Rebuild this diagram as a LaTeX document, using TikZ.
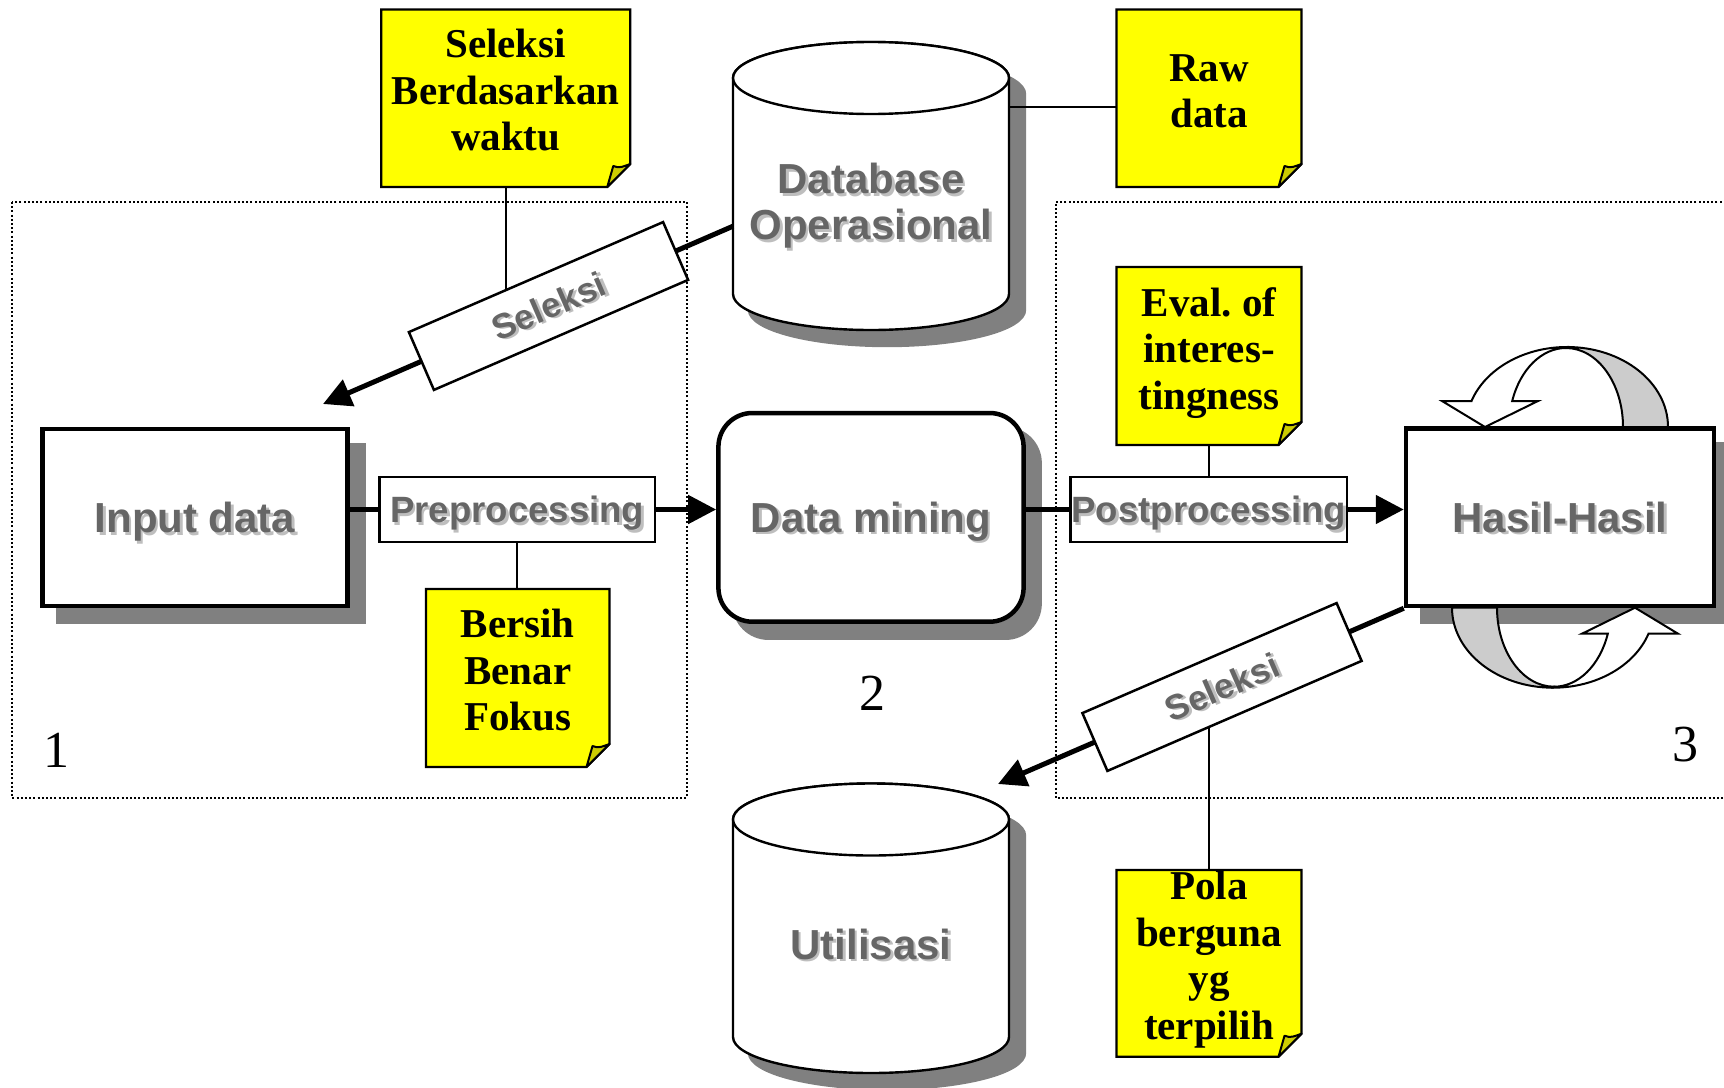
\documentclass[tikz,border=0pt]{standalone}
\usepackage{fontspec}
\setmainfont{Liberation Serif}
\newfontfamily\labelfont{Liberation Sans}
\usetikzlibrary{arrows.meta,calc,shadows}

\definecolor{notey}{RGB}{255,255,0}
\definecolor{notecurlc}{RGB}{204,204,0}
\definecolor{shadowgray}{RGB}{128,128,128}
\definecolor{bandgray}{RGB}{204,204,204}
\definecolor{labelink}{RGB}{102,102,102}
\definecolor{labelshade}{RGB}{190,190,190}

% grey label text with a soft drop shadow
\newcommand{\embossed}[1]{\makebox[0pt][l]{\hspace*{1.2pt}\raisebox{-1.2pt}{\color{labelshade}#1}}{\color{labelink}#1}}

\tikzset{
  panel/.style={line width=1pt, dash pattern=on 1pt off 1.1pt},
  notespot/.style={inner sep=0pt, outer sep=0pt},
  notepaper/.style={fill=notey, draw=black, line width=1.2pt, line join=miter},
  notecurl/.style={fill=notecurlc, draw=black, line width=1pt, line join=round},
  notetext/.style={inner sep=0pt, align=center, font=\fontsize{20.5}{23.25}\selectfont\bfseries},
  boxshadow/.style={drop shadow={shadow xshift=8pt, shadow yshift=-8pt, opacity=1, fill=shadowgray, draw=shadowgray}},
  bigbox/.style={draw, fill=white, line width=2.25pt, inner sep=0pt, text depth=0pt,
    font=\labelfont\fontsize{21}{23}\selectfont\bfseries, boxshadow},
  stepbox/.style={draw, fill=white, line width=1.25pt, inner sep=0pt, text depth=0pt,
    font=\labelfont\fontsize{18.3}{20}\selectfont\bfseries},
  seleksibox/.style={stepbox, rotate=23.4, minimum width=138.5pt, minimum height=31.5pt,
    font=\labelfont\fontsize{17.5}{20}\selectfont\bfseries},
  flow/.style={line width=2.5pt},
  flowarrow/.style={flow, -{Triangle[length=14pt,width=14pt]}},
  tie/.style={line width=1pt},
  drumlabel/.style={inner sep=0pt, align=center, font=\labelfont\fontsize{21}{23}\selectfont\bfseries},
  drumshade/.style={fill=shadowgray, draw=shadowgray, line width=1.2pt},
  drumwall/.style={fill=white, draw=black, line width=1.2pt},
  tally/.style={inner sep=0pt, font=\fontsize{26}{30}\selectfont},
  ribbon/.style={draw=black, line width=1pt, line join=miter},
}

% sticky note: name, centre x, centre y, width, height, top of text, text
\newcommand{\stickynote}[7]{%
  \node[notespot, minimum width=#4, minimum height=#5] (#1) at (#2,#3) {};
  \draw[notepaper] (#1.north west) -- (#1.north east)
     -- ($(#1.south east)+(0,-23)$) -- ($(#1.south east)+(-23,0)$) -- (#1.south west) -- cycle;
  \draw[notecurl] ($(#1.south east)+(-23,0)$) -- ($(#1.south east)+(-17,-21)$)
     .. controls ($(#1.south east)+(-11,-18)$) and ($(#1.south east)+(-6,-21)$) .. ($(#1.south east)+(0,-23)$) -- cycle;
  \node[notetext, anchor=north] (#1-txt) at (#2,#6) {#7};
}

% outline of an upright drum: centre x, top rim y, bottom rim y
\newcommand{\drumoutline}[3]{(#1-138,#2) -- (#1-138,#3) arc[start angle=180,end angle=0,x radius=138,y radius=36] -- (#1+138,#2) arc[start angle=0,end angle=-180,x radius=138,y radius=36] -- cycle}

% drum with shadow: name, centre x, top rim y, bottom rim y, total height
\newcommand{\drum}[5]{%
  \filldraw[drumshade, shift={(16,16)}] \drumoutline{#2}{#3}{#4};
  \filldraw[drumwall] \drumoutline{#2}{#3}{#4};
  \draw[drumwall] (#2,#3) ellipse[x radius=138, y radius=36];
  \node[notespot, minimum width=138pt, minimum height=#5] (#1) at (#2,{(#3+#4)/2}) {};
}

% twisted loop arrow, origin at the centre of its outer arc
\newcommand{\loopribbon}{%
  \filldraw[ribbon, fill=bandgray] (56,0) arc[start angle=0,end angle=-90,x radius=57,y radius=79]
     -- (0,-80) arc[start angle=-90,end angle=0,x radius=101,y radius=80] -- cycle;
  \filldraw[ribbon, fill=white] (-95.5,-26) -- (-125,-26) -- (-82,0) -- (-29,-26) -- (-54.8,-26)
     arc[start angle=199.2,end angle=270,x radius=57,y radius=79]
     -- (0,-80) arc[start angle=270,end angle=199,x radius=101,y radius=80] -- cycle;
}

\begin{document}
\begin{tikzpicture}[x=0.5pt,y=-0.5pt]
\path[use as bounding box] (0,0) rectangle (1724,1087);
\clip (0,0) rectangle (1724,1087);

% stage panels
\draw[panel] (12,202) rectangle (687,798);
\draw[panel] (1730,202) -- (1055.5,202) -- (1055.5,798) -- (1730,798);

% stage numbers
\node[tally, anchor=base] (n1) at (56,767) {1};
\node[tally, anchor=base] (n2) at (872,710) {2};
\node[tally, anchor=base] (n3) at (1685,761) {3};

% databases
\drum{dbop}{871}{78}{294}{144pt}
\drum{util}{871}{819.5}{1037}{144.75pt}
\node[drumlabel, anchor=north] (dbop-txt) at (871,163) {\embossed{Database}\\\embossed{Operasional}};
\node[drumlabel, anchor=base] (util-txt) at (871,959) {\embossed{Utilisasi}};

% notes
\stickynote{noteA}{505.75}{98.25}{124.5pt}{88.75pt}{29}{Seleksi\\Berdasarkan\\waktu}
\stickynote{noteB}{1209}{98.25}{92.5pt}{88.75pt}{54}{Raw\\data}
\stickynote{noteC}{1209}{356}{92.5pt}{89pt}{287}{Eval.\ of\\interes-\\tingness}
\stickynote{noteD}{517.75}{678}{91.75pt}{89pt}{609}{Bersih\\Benar\\Fokus}
\stickynote{noteE}{1209}{963.35}{92.5pt}{93.35pt}{871}{Pola\\berguna\\yg\\terpilih}

% main stages
\node[bigbox, minimum width=152.5pt, minimum height=88.5pt] (input) at (195,517.5) {\embossed{Input data}};
\node[bigbox, rounded corners=17pt, minimum width=152.6pt, minimum height=104.35pt] (dm) at (871,517.35) {\embossed{Data mining}};
\node[bigbox, minimum width=154pt, minimum height=88.65pt] (hasil) at (1560,517.35) {\embossed{Hasil-Hasil}};

% processing steps
\node[stepbox, minimum width=137.75pt, minimum height=32.5pt] (pre) at (517.2,509.5) {\embossed{Preprocessing}};
\node[stepbox, minimum width=138.25pt, minimum height=32.5pt] (post) at (1208.75,509.5) {\embossed{Postprocessing}};

% main flow
\draw[flow] (input.east |- pre.west) -- (pre.west);
\draw[flowarrow] (pre.east) -- (pre.east -| dm.west);
\draw[flow] (dm.east |- post.west) -- (post.west);
\draw[flowarrow] (post.east) -- (post.east -| hasil.west);

% note ties
\draw[tie] (pre.south) -- (pre.south |- noteD.north);
\draw[tie] (noteC.south) -- (noteC.south |- post.north);
\coordinate (rawtap) at ($(noteB.west)+(0,9)$);
\draw[tie] (rawtap) -- (rawtap -| dbop.east);

% selection from the operational database
\coordinate (selAc) at (548.5,306);
\coordinate (tapA) at (733,226.2);
\coordinate (tipA) at (323,404);
\draw[flowarrow] (tapA) -- (tipA);
\draw[tie] (noteA.south) -- (noteA.south |- selAc);
\node[seleksibox] (selA) at (selAc) {\embossed{Seleksi}};

% selection of the results
\coordinate (selBc) at (1222,687);
\coordinate (tipB) at (998,784);
\draw[flowarrow] (hasil.south west) -- (tipB);
\draw[tie] (noteE.north) -- (noteE.north |- selBc);
\node[seleksibox] (selB) at (selBc) {\embossed{Seleksi}};

% iteration loops round the results
\begin{scope}[shift={(hasil.center)}]
  \begin{scope}[shift={(7,-90.35)}]
    \loopribbon
  \end{scope}
\end{scope}
\begin{scope}[shift={(hasil.center)}, rotate=180]
  \begin{scope}[shift={(7,-90.35)}]
    \loopribbon
  \end{scope}
\end{scope}
\end{tikzpicture}
\end{document}
